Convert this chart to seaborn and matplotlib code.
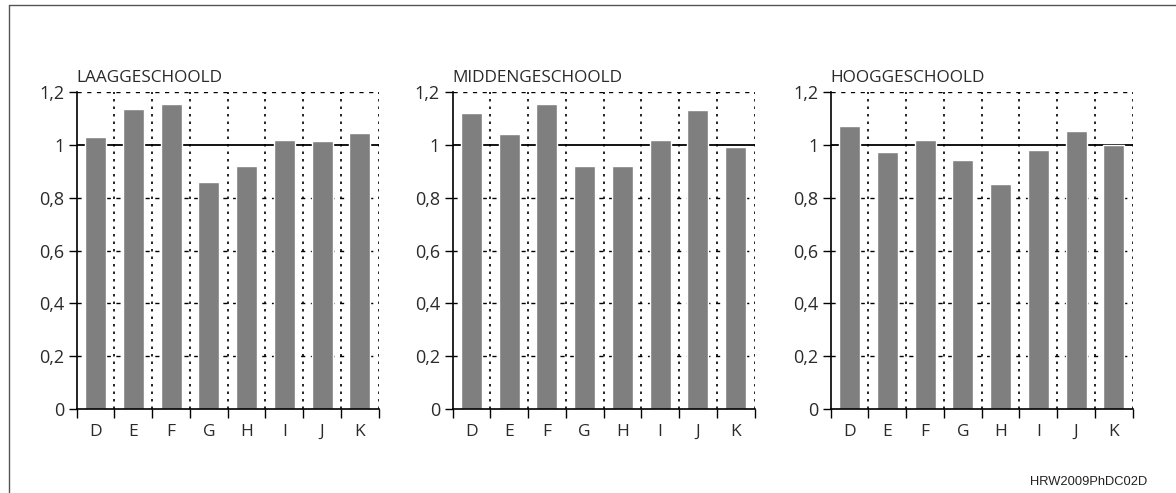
import numpy as np
import matplotlib
matplotlib.use('Agg')
import matplotlib.pyplot as plt
import seaborn as sns
from matplotlib.lines import Line2D

sns.set_style("white")
plt.rcParams['font.family'] = ['Open Sans', 'DejaVu Sans']

# data
categories = ['D', 'E', 'F', 'G', 'H', 'I', 'J', 'K']
laag = [1.03, 1.135, 1.155, 0.86, 0.92, 1.02, 1.013, 1.043]
midden = [1.12, 1.042, 1.153, 0.92, 0.92, 1.02, 1.133, 0.99]
hoog = [1.07, 0.972, 1.02, 0.942, 0.852, 0.98, 1.053, 1.0]
titles = ['LAAGGESCHOOLD', 'MIDDENGESCHOOLD', 'HOOGGESCHOOLD']
yticks = [0, 0.2, 0.4, 0.6, 0.8, 1.0, 1.2]
ytick_labels = ['0', '0,2', '0,4', '0,6', '0,8', '1', '1,2']

W, H = 1176, 493
fig = plt.figure(figsize=(W / 100, H / 100), dpi=100)

lefts = [76.7, 452.5, 830.7]
ax_w, ax_top, ax_bot = 302, 92, 409

for left, vals, title in zip(lefts, [laag, midden, hoog], titles):
    ax = fig.add_axes([left / W, 1 - ax_bot / H, ax_w / W, (ax_bot - ax_top) / H])
    sns.barplot(x=categories, y=vals, color='#7f7f7f', saturation=1,
                width=0.56, ax=ax, zorder=2)
    ax.set_xlim(-0.5, len(categories) - 0.5)
    ax.set_ylim(0, 1.2)

    # dashed horizontal guides, solid reference line at 1
    for yv in yticks[1:]:
        if yv == 1.0:
            ax.axhline(yv, color='black', lw=1.3, zorder=1)
        else:
            ax.axhline(yv, color='black', lw=1.0, ls=(0, (3, 4)), zorder=1)
    # dotted vertical separators between categories
    for xv in np.arange(0.5, len(categories), 1.0):
        ax.axvline(xv, color='black', lw=1.2, ls=(0, (1.5, 3)), zorder=1)

    for s in ['top', 'right']:
        ax.spines[s].set_visible(False)
    for s in ['left', 'bottom']:
        ax.spines[s].set_color('black')
        ax.spines[s].set_linewidth(1.2)

    ax.set_yticks(yticks)
    ax.set_yticklabels(ytick_labels)
    ax.tick_params(axis='y', direction='out', length=6, width=1, color='black',
                   labelsize=13, pad=3, left=True, labelcolor='#2a2a2a')
    ax.set_xticks(range(len(categories)))
    ax.set_xticklabels(categories)
    ax.set_xticks(np.arange(-0.5, len(categories), 1.0), minor=True)
    ax.tick_params(axis='x', which='major', length=0, pad=11, labelsize=12.5,
                   labelcolor='#2a2a2a')
    ax.tick_params(axis='x', which='minor', direction='out', length=6.5,
                   width=1, color='black', bottom=True)
    ax.set_xlabel('')
    ax.set_ylabel('')
    ax.text(0.0, 1.02, title, transform=ax.transAxes, fontsize=12.4,
            ha='left', va='bottom', color='#2a2a2a')

# outer frame lines at top and left
fig.add_artist(Line2D([9 / W, 1], [1 - 5 / H, 1 - 5 / H], color='#555555', lw=1))
fig.add_artist(Line2D([9 / W, 9 / W], [0, 1 - 5 / H], color='#555555', lw=1))

fig.text(1147 / W, 1 - 482 / H, 'HRW2009PhDC02D', ha='right', va='center',
         fontsize=9.3, family=['Liberation Sans', 'DejaVu Sans'], color='#222222')

fig.savefig('out.png', dpi=100)
